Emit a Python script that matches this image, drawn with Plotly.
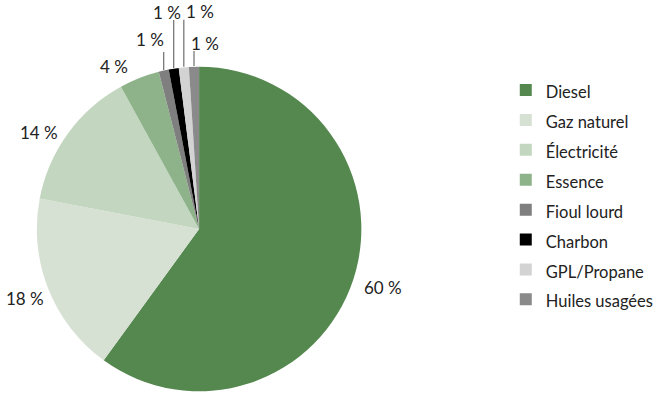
import math
import plotly.graph_objects as go

labels = ["Diesel", "Gaz naturel", "Électricité", "Essence", "Fioul lourd", "Charbon", "GPL/Propane", "Huiles usagées"]
values = [60, 18, 14, 4, 1, 1, 1, 1]
pct_text = ["60 %", "18 %", "14 %", "4 %", "1 %", "1 %", "1 %", "1 %"]
colors = ["#55884f", "#d6e1d3", "#c3d6bf", "#8eb38a", "#7f7f7f", "#000000", "#d3d3d3", "#8a8a8a"]

W, H = 659, 398
OFF = 0  # body margin removed via post_script
# pie geometry in page pixels
CX, CY, R = 200.0, 229.0, 163.0


def px2paper(x, y):
    return (x - OFF) / W, 1 - (y - OFF) / H


x0d, y1d = px2paper(CX - R, CY - R)
x1d, y0d = px2paper(CX + R, CY + R)
dom_x = [x0d, x1d]
dom_y = [y0d, y1d]

# label styling
label_r = 188.0
nudge = {0: (6, 0), 2: (-9, 14), 3: (-16, 12)}  # small pixel nudges for big-slice labels
leader = {  # index: (line length above slice edge, text dx, text dy above line top)
    4: (18, -14, 12),
    5: (48, -7, 8),
    6: (47, 16, 8),
    7: (15, 11, 8),
}
LABEL_FONT = dict(size=17, color="#222222")

legend_labels = ['<span style="font-size:16.5px">%s</span>' % l for l in labels]

fig = go.Figure(go.Pie(
    labels=legend_labels,
    values=values,
    marker=dict(colors=colors, line=dict(width=0)),
    sort=False,
    direction="clockwise",
    rotation=0,
    textinfo="none",
    hoverinfo="label+value",
    domain=dict(x=dom_x, y=dom_y),
    showlegend=True,
))

total = float(sum(values))
cum = 0.0
annotations = []
shapes = []
for i, v in enumerate(values):
    mid = (cum + v / 2.0) / total * 2 * math.pi
    cum += v
    sx, sy = math.sin(mid), -math.cos(mid)
    if i in leader:
        up, dx, dy = leader[i]
        ex, ey = CX + R * sx, CY + R * sy
        tx, ty = ex, ey - up
        p0 = px2paper(ex, ey)
        p1 = px2paper(tx, ty)
        shapes.append(dict(type="line", xref="paper", yref="paper",
                           x0=p0[0], y0=p0[1], x1=p1[0], y1=p1[1],
                           line=dict(color="#6e6e6e", width=1.2)))
        ax_, ay_ = px2paper(tx + dx, ty - dy)
    else:
        ndx, ndy = nudge.get(i, (0, 0))
        ax_, ay_ = px2paper(CX + label_r * sx + ndx, CY + label_r * sy + ndy)
    annotations.append(dict(x=ax_, y=ay_, xref="paper", yref="paper", text=pct_text[i],
                            showarrow=False, xanchor="center", yanchor="middle",
                            font=LABEL_FONT))

fig.update_layout(
    width=W, height=H,
    margin=dict(l=0, r=0, t=0, b=0),
    paper_bgcolor="white",
    font=dict(family="Lato, 'Noto Sans', sans-serif", color="#222222"),
    annotations=annotations,
    shapes=shapes,
    legend=dict(
        x=0.771, y=0.824, xanchor="left", yanchor="top",
        font=dict(size=20.7, color="#222222"),
        itemclick=False,
    ),
)

fig.write_html("out.html", config={"displayModeBar": False},
               post_script="document.body.style.margin='0';")
